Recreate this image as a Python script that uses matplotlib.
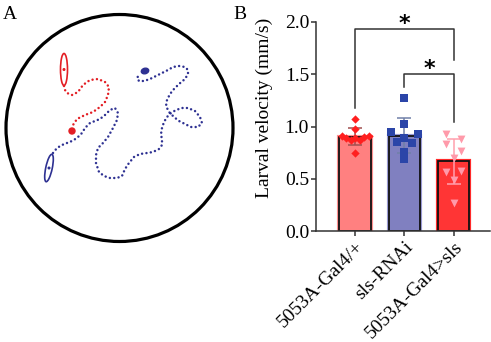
import numpy as np
import matplotlib
matplotlib.use("Agg")
import matplotlib.pyplot as plt
from matplotlib.patches import Circle, Ellipse

# ---- panel B: larval velocity (mm/s), one value per larva ----
groups = ["5053A-Gal4/+", "sls-RNAi", "5053A-Gal4>sls"]
ctrl_gal4 = [1.07, 0.98, 0.91, 0.89, 0.87, 0.89, 0.87, 0.90, 0.91, 0.75]
sls_rnai = [1.27, 1.02, 0.95, 0.89, 0.93, 0.85, 0.84, 0.76, 0.69]
gal4_sls = [0.93, 0.88, 0.83, 0.77, 0.70, 0.56, 0.57, 0.49, 0.27]
yticks = [0.0, 0.5, 1.0, 1.5, 2.0]
# (left group, right group, label, bracket height, left leg end, right leg end)
comparisons = [(0, 2, "*", 1.93, 1.18, 1.64),
               (1, 2, "*", 1.50, 1.38, 1.04)]

# ---- panel A: traced larval tracks (drawing pixel coords) ----
red_track_x = [64, 65, 67, 72, 78, 83, 90, 98, 105, 109, 108, 105, 100, 93, 85, 77, 73]
red_track_y = [86, 90, 93, 95, 92, 85, 80, 79, 82, 87, 95, 102, 107, 112, 115, 119, 125]
blue_track_x = [53, 57, 62, 67, 72, 77, 82, 85, 90, 95, 100, 105, 110, 115, 118, 117, 113,
                108, 103, 98, 96, 96, 99, 104, 110, 117, 122, 125, 129, 134, 140, 147, 153,
                159, 162, 162, 161, 162, 164, 167, 171, 176, 182, 188, 195, 200, 202, 198,
                191, 185, 179, 174, 169, 166, 167, 170, 174, 179, 185, 188, 188, 185, 179,
                173, 168, 162, 156, 150, 144, 139, 137, 139]
blue_track_y = [153, 148, 145, 143, 141, 138, 133, 128, 123, 121, 119, 115, 110, 108, 113, 120,
                128, 137, 143, 148, 155, 163, 172, 176, 178, 178, 176, 169, 163, 157, 154, 153,
                152, 149, 145, 140, 134, 128, 122, 117, 113, 110, 108, 108, 111, 117, 123, 127,
                127, 124, 121, 117, 112, 106, 100, 94, 89, 84, 79, 74, 70, 67, 66, 67, 70, 73,
                76, 79, 81, 81, 78, 75]

RED = "#E31E24"
BLUE = "#2E3192"

plt.rcParams["font.family"] = ["Liberation Serif", "DejaVu Serif"]
W, H = 491, 342
fig = plt.figure(figsize=(W / 100, H / 100), dpi=100)

# panel A drawing
axa = fig.add_axes([0, 0, 1, 1])
axa.set_xlim(0, W)
axa.set_ylim(H, 0)
axa.axis("off")
axa.add_patch(Circle((119.5, 128), 113.5, fill=False, ec="black", lw=2.3))
dots = dict(lw=1.8, ls=(0, (0.01, 1.75)), dash_capstyle="round", solid_capstyle="round")
axa.plot(red_track_x, red_track_y, color=RED, **dots)
axa.plot(blue_track_x, blue_track_y, color=BLUE, **dots)
axa.add_patch(Ellipse((64, 69.5), 7, 32, fill=False, ec=RED, lw=1.2))
axa.add_patch(Ellipse((64, 69.5), 1.6, 1.6, color=RED))
axa.add_patch(Ellipse((72, 131), 6, 6, color=RED))
axa.add_patch(Ellipse((49, 168), 6.5, 28, angle=12, fill=False, ec=BLUE, lw=1.2))
axa.add_patch(Ellipse((49, 168), 1.6, 1.6, color=BLUE))
axa.add_patch(Ellipse((145, 71), 7.5, 5.5, angle=-15, color=BLUE))

fig.text(3 / W, 1 - 6 / H, "A", fontsize=14, va="top", ha="left")
fig.text(233 / W, 1 - 6 / H, "B", fontsize=14, va="top", ha="left")

# panel B bar chart
ax = fig.add_axes([316 / W, (H - 231) / H, (490 - 316) / W, (231 - 22) / H])
ax.set_xlim(-0.79, 2.73)
ax.set_ylim(0, 2.0)

data = [ctrl_gal4, sls_rnai, gal4_sls]
x = np.arange(len(groups))
means = [np.mean(d) for d in data]
sds = [np.std(d, ddof=1) for d in data]
bar_fill = ["#FF8080", "#8080C0", "#FF3535"]
bar_halo = ["#FF9090", "#9A9AD4", "#FF2A2A"]
pt_color = ["#FF1F1F", "#2B45A8", "#FF9AAA"]
err_color = ["#A05050", "#7080A8", "#FFA0AE"]
markers = ["D", "s", "v"]
msize = [18, 30, 32]

ax.bar(x, means, width=0.63, color=bar_fill, edgecolor=bar_halo, lw=3.0, zorder=1)
ax.bar(x, means, width=0.63, color=bar_fill, edgecolor="#111111", lw=1.3, zorder=2)
for i in range(len(groups)):
    ax.errorbar(x[i], means[i], yerr=sds[i], color=err_color[i], lw=1.1,
                capsize=5, capthick=1.1, zorder=3)


def scatter_offsets(vals, row_px=6.5, step_px=15.0, max_px=27.0):
    # GraphPad-like column scatter: points close in value share a row
    tr = ax.transData
    px_x = tr.transform((1, 0))[0] - tr.transform((0, 0))[0]
    px_y = tr.transform((0, 1))[1] - tr.transform((0, 0))[1]
    order = sorted(range(len(vals)), key=lambda j: -vals[j])
    rows = []
    for j in order:
        if rows and vals[rows[-1][0]] * px_y - vals[j] * px_y < row_px:
            rows[-1].append(j)
        else:
            rows.append([j])
    offs = np.zeros(len(vals))
    for r in rows:
        r = sorted(r)
        n = len(r)
        if n == 1:
            continue
        step = min(step_px, max_px / (n - 1))
        for k, j in enumerate(r):
            offs[j] = (k - (n - 1) / 2) * step / px_x
    return offs


for i, d in enumerate(data):
    off = scatter_offsets(d)
    ax.scatter(x[i] + off, d, marker=markers[i], s=msize[i], color=pt_color[i],
               lw=0, zorder=4)

for a, b, lab, h, la, lb in comparisons:
    ax.plot([a, a, b, b], [la, h, h, lb], color="#333333", lw=1.1, clip_on=False,
            zorder=5)
    ax.text((a + b) / 2, h - 0.01, lab, ha="center", va="baseline", fontsize=16,
            fontweight="bold", family="DejaVu Sans", clip_on=False)

for s in ["top", "right"]:
    ax.spines[s].set_visible(False)
for s in ["left", "bottom"]:
    ax.spines[s].set_linewidth(1.1)
    ax.spines[s].set_color("#333333")
ax.set_yticks(yticks)
ax.set_yticklabels([f"{t:.1f}" for t in yticks], fontsize=14)
ax.set_xticks(x)
ax.set_xticklabels(groups, rotation=45, ha="right", rotation_mode="anchor", fontsize=14)
ax.tick_params(axis="both", length=3.5, width=1.1, color="#333333", pad=1.5)
ax.set_ylabel("Larval velocity (mm/s)", fontsize=14)
ax.yaxis.set_label_coords(-0.245, 0.59)

fig.savefig("out.png", dpi=100)
